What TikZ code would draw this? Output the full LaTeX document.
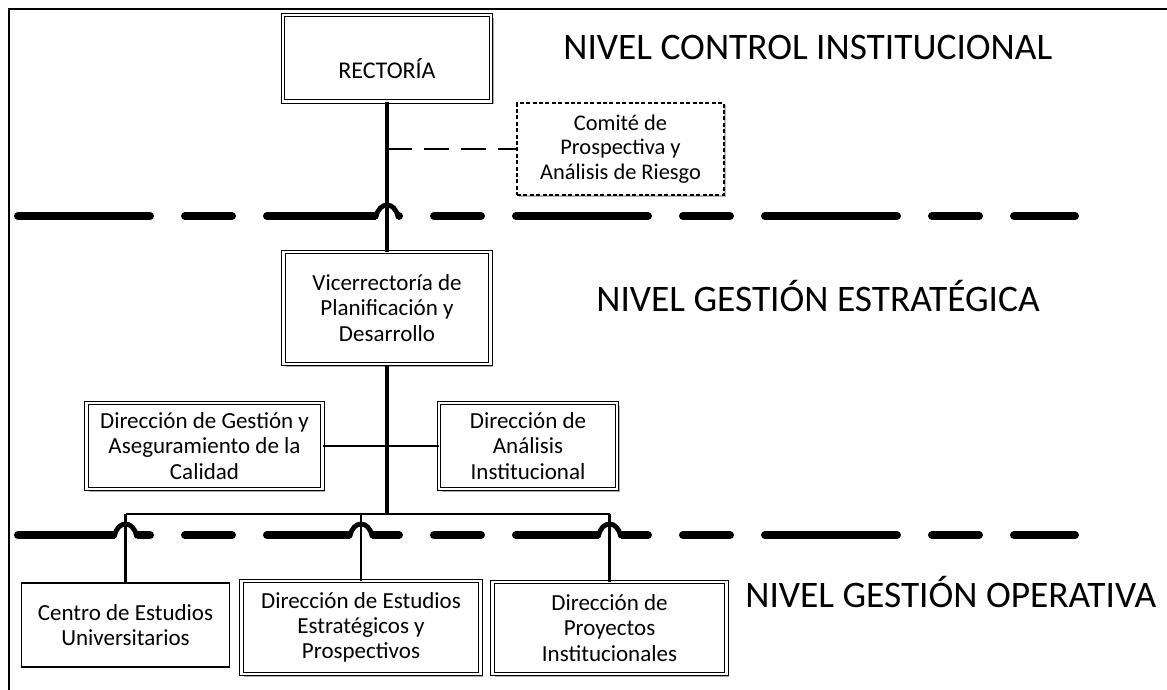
\documentclass[tikz,border=0pt]{standalone}
\usepackage{fontspec}
\setmainfont{Carlito}
\usetikzlibrary{positioning,shadows,calc}

\begin{document}
\begin{tikzpicture}
        [x=0.5pt,y=-0.5pt,
        unidad/.style={draw,double,double distance=1.3pt,line width=0.5pt,align=center,inner sep=0pt,fill=white,
            font=\fontsize{11.5}{12.6}\selectfont,
            drop shadow={shadow xshift=1.3pt,shadow yshift=-1.3pt,fill=black!65}},
        simple/.style={draw,line width=0.8pt,align=center,inner sep=0pt,font=\fontsize{11.5}{12.6}\selectfont},
        comitebox/.style={draw,dash pattern=on 2pt off 1.2pt,line width=0.6pt,align=center,inner sep=0pt,
            font=\fontsize{11.2}{12.3}\selectfont,fill=white,
            drop shadow={shadow xshift=1.1pt,shadow yshift=-1.1pt,fill=black!55}},
        nivel/.style={anchor=west,inner sep=0pt,font=\fontsize{18.7}{20}\selectfont},
        separador/.style={line width=4pt,line cap=round,dash pattern=on 66pt off 17.5pt on 23.5pt off 17.5pt},
        salto/.style={line width=2.4pt,line cap=round},
        linea/.style={line width=2pt},
        ramal/.style={line width=1.4pt}]

        \useasboundingbox (0,0) rectangle (1167,690);

        % marco
        \draw[line width=1.4pt] (9,690) -- (9,9) -- (1167,9);

        % niveles
        \draw[separador] (18,216) -- (1075,216);
        \draw[separador] (18,535) -- (1075,535);

        \node[nivel] (n1) at (563,48) {NIVEL CONTROL INSTITUCIONAL};
        \node[nivel] (n2) at (596,296) {NIVEL GESTIÓN ESTRATÉGICA};
        \node[nivel] (n3) at (745,592) {NIVEL GESTIÓN OPERATIVA};

        % unidades
        \node[unidad,minimum width=104pt,text height=31.5pt,text depth=11.8pt,
            font=\fontsize{12}{13}\selectfont] (rect) at (387,58.5) {RECTORÍA};
        \node[comitebox,minimum width=103.5pt,minimum height=46pt] (comite) at (620.5,149)
            {Comité de\\Prospectiva y\\Análisis de Riesgo};
        \node[unidad,minimum width=103.5pt,minimum height=56pt] (vice) at (387,308)
            {Vicerrectoría de\\Planificación y\\Desarrollo};
        \node[unidad,minimum width=118pt,minimum height=43pt] (gestion) at (204.5,446)
            {Dirección de Gestión y\\Aseguramiento de la\\Calidad};
        \node[unidad,minimum width=89pt,minimum height=43pt] (analisis) at (528,446)
            {Dirección de\\Análisis\\Institucional};
        \node[simple,minimum width=104pt,minimum height=42pt] (centro) at (125.5,625)
            {Centro de Estudios\\Universitarios};
        \node[unidad,minimum width=119.5pt,minimum height=46.5pt] (estudios) at (361,627.5)
            {Dirección de Estudios\\Estratégicos y\\Prospectivos};
        \node[unidad,minimum width=117pt,minimum height=46pt] (proyectos) at (609.5,628)
            {Dirección de\\Proyectos\\Institucionales};

        % saltos sobre los separadores
        \foreach \n/\hy in {rect/216,centro/535,estudios/535,proyectos/535}{
            \path (\n.center |- 0,\hy) coordinate (h);
            \fill[white] ($(h)+(-11,-7)$) rectangle ($(h)+(11,7)$);
            \draw[salto] ($(h)+(-11,1)$) .. controls ($(h)+(-8,-15)$) and ($(h)+(8,-15)$) .. ($(h)+(11,1)$);
        }

        % conectores
        \draw[linea] (rect) -- (vice);
        \draw[line width=1.4pt,dash pattern=on 12.5pt off 6pt] (rect.south |- comite.west) -- (comite.west);
        \draw[ramal] (gestion) -- (analisis);
        \draw[linea] (vice.south) -- (vice.south |- 0,514) coordinate (bus);
        \draw[ramal] (centro.north |- bus) -- (proyectos.north |- bus);
        \foreach \n in {centro,estudios,proyectos}
            \draw[ramal] (\n.north |- bus) -- (\n.north);

\end{tikzpicture}
\end{document}
